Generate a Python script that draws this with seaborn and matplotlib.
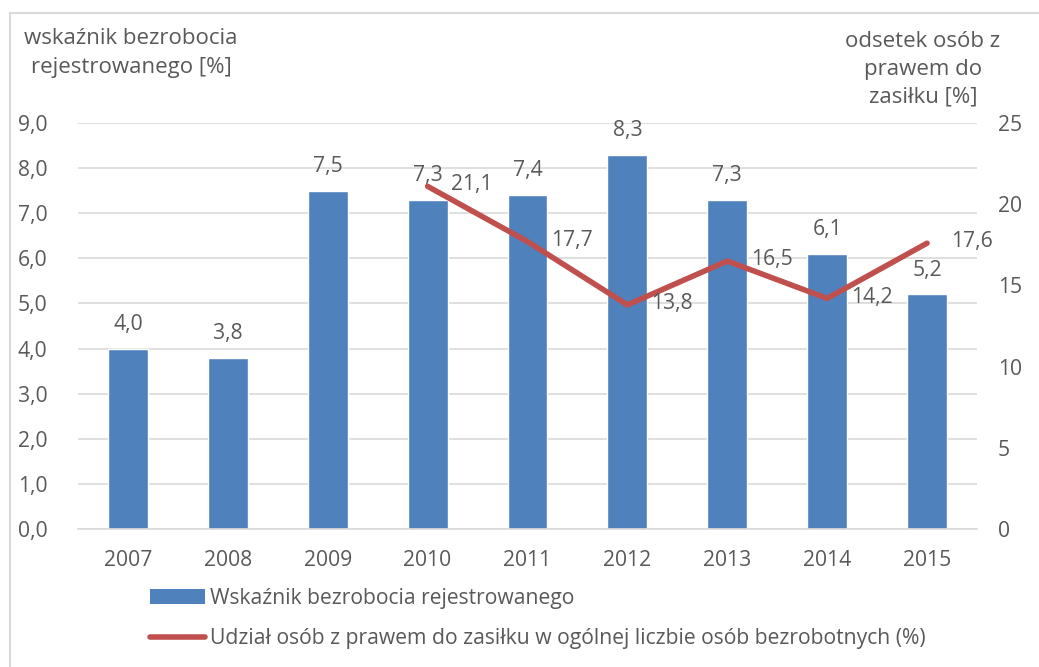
import matplotlib
matplotlib.use("Agg")
import matplotlib.pyplot as plt
import seaborn as sns
import pandas as pd
from matplotlib.patches import Patch, Rectangle
from matplotlib.lines import Line2D

years = ["2007", "2008", "2009", "2010", "2011", "2012", "2013", "2014", "2015"]
unemployment = [4.0, 3.8, 7.5, 7.3, 7.4, 8.3, 7.3, 6.1, 5.2]
benefit_years = ["2010", "2011", "2012", "2013", "2014", "2015"]
benefit_share = [21.1, 17.7, 13.8, 16.5, 14.2, 17.6]
left_ticks = [0, 1, 2, 3, 4, 5, 6, 7, 8, 9]
right_ticks = [0, 5, 10, 15, 20, 25]

bar_label = "Wskaźnik bezrobocia rejestrowanego"
line_label = "Udział osób z prawem do zasiłku w ogólnej liczbie osób bezrobotnych (%)"
left_title = "wskaźnik bezrobocia\nrejestrowanego [%]"
right_title = "odsetek osób z\nprawem do\nzasiłku [%]"

BAR = "#4F81BD"
LINE = "#C0504D"
TXT = "#595959"
GRID = "#D9D9D9"

sns.set_theme(style="white")
plt.rcParams["font.family"] = ["Open Sans", "DejaVu Sans"]
FS = 15.2
TFS = 16

W, H = 1039, 667
fig = plt.figure(figsize=(W / 100, H / 100), dpi=100)
ax = fig.add_axes([78 / W, 1 - 529 / H, (977 - 78) / W, (529 - 123) / H])

df = pd.DataFrame({"year": years, "val": unemployment})
sns.barplot(data=df, x="year", y="val", color=BAR, width=0.4, ax=ax,
            saturation=1, zorder=2)
ax.set_xlim(-0.5, len(years) - 0.5)
ax.set_ylim(0, 9)
ax.set_yticks(left_ticks)
ax.set_yticklabels([f"{v:.1f}".replace(".", ",") for v in left_ticks])
ax.set_xlabel("")
ax.set_ylabel("")
ax.yaxis.grid(True, color=GRID, lw=1.2, zorder=0)
ax.set_axisbelow(True)
for s in ["top", "right", "left"]:
    ax.spines[s].set_visible(False)
ax.spines["bottom"].set_color(GRID)
ax.spines["bottom"].set_linewidth(1.2)
ax.tick_params(axis="y", length=0, pad=22, labelsize=FS, labelcolor=TXT)
ax.tick_params(axis="x", length=0, pad=15, labelsize=FS, labelcolor=TXT)

for i, v in enumerate(unemployment):
    ax.annotate(f"{v:.1f}".replace(".", ","), (i, v), xytext=(0, 10),
                textcoords="offset points", ha="center", va="bottom",
                fontsize=FS, color=TXT)

ax2 = ax.twinx()
xpos = [years.index(y) for y in benefit_years]
sns.lineplot(x=xpos, y=benefit_share, ax=ax2, color=LINE, lw=4,
             solid_capstyle="round", solid_joinstyle="round")
ax2.set_ylim(0, 25)
ax2.set_yticks(right_ticks)
ax2.set_yticklabels([str(v) for v in right_ticks])
ax2.set_ylabel("")
ax2.grid(False)
for s in ["top", "right", "left", "bottom"]:
    ax2.spines[s].set_visible(False)
ax2.tick_params(axis="y", length=0, pad=15, labelsize=FS, labelcolor=TXT)
ax2.set_xlim(-0.5, len(years) - 0.5)

for x, v in zip(xpos, benefit_share):
    ax2.annotate(f"{v:.1f}".replace(".", ","), (x, v), xytext=(17, 1),
                 textcoords="offset points", ha="left", va="center",
                 fontsize=FS, color=TXT)

fig.text(131 / W, 1 - 53 / H, left_title, ha="center", va="center",
         fontsize=TFS, color=TXT, linespacing=1.45)
fig.text(923 / W, 1 - 69 / H, right_title, ha="center", va="center",
         fontsize=TFS, color=TXT, linespacing=1.42)

handles = [Patch(facecolor=BAR, edgecolor="none"),
           Line2D([0], [0], color=LINE, lw=4, solid_capstyle="round")]
fig.legend(handles, [bar_label, line_label], loc="upper left",
           bbox_to_anchor=(150 / W, 1 - 588 / H), frameon=False,
           fontsize=FS, labelcolor=TXT, handlelength=2.6, handletextpad=0.25,
           borderpad=0, borderaxespad=0, labelspacing=0.9)

fig.add_artist(Rectangle((10 / W, -0.1), 1.2, 1.1 - 13 / H,
                         transform=fig.transFigure, fill=False,
                         edgecolor=GRID, lw=1.5))

fig.savefig("out.png", dpi=100)
